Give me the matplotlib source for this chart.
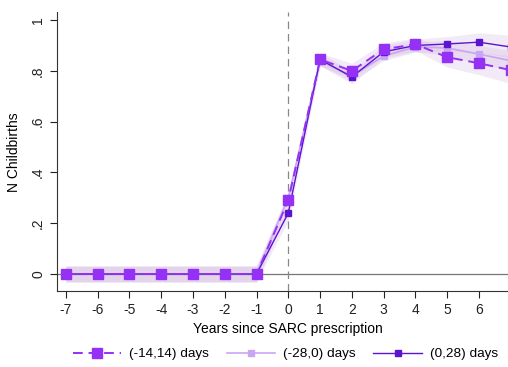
import numpy as np
import matplotlib.pyplot as plt
from matplotlib import rcParams

rcParams['font.family'] = ['Liberation Sans', 'DejaVu Sans']
rcParams['axes.unicode_minus'] = False

years = [-7, -6, -5, -4, -3, -2, -1, 0, 1, 2, 3, 4, 5, 6, 7]

# (-14,14) days
s1 = [0, 0, 0, 0, 0, 0, 0, 0.29, 0.845, 0.80, 0.885, 0.905, 0.854, 0.83, 0.803]
s1_lo = [-0.033] * 7 + [0.26, 0.82, 0.77, 0.86, 0.88, 0.815, 0.785, 0.75]
s1_hi = [0.033] * 7 + [0.32, 0.87, 0.83, 0.91, 0.93, 0.895, 0.875, 0.86]

# (-28,0) days
s2 = [0, 0, 0, 0, 0, 0, 0, 0.30, 0.84, 0.78, 0.858, 0.895, 0.89, 0.866, 0.84]
s2_lo = [-0.03] * 7 + [0.28, 0.82, 0.76, 0.84, 0.875, 0.86, 0.83, 0.80]
s2_hi = [0.03] * 7 + [0.32, 0.86, 0.80, 0.88, 0.915, 0.92, 0.90, 0.88]

# (0,28) days
s3 = [0, 0, 0, 0, 0, 0, 0, 0.24, 0.845, 0.776, 0.875, 0.90, 0.906, 0.913, 0.894]
s3_lo = [-0.03] * 7 + [0.21, 0.82, 0.75, 0.85, 0.875, 0.875, 0.875, 0.85]
s3_hi = [0.03] * 7 + [0.27, 0.87, 0.80, 0.90, 0.925, 0.935, 0.95, 0.94]

c1 = '#9530F5'
c2 = '#C9A6F2'
c3 = '#5A14D2'

fig = plt.figure(figsize=(5.08, 3.67), dpi=100)
ax = fig.add_axes([0.112, 0.207, 0.911, 0.759])

for lo, hi in [(s1_lo, s1_hi), (s2_lo, s2_hi), (s3_lo, s3_hi)]:
    ax.fill_between(years, lo, hi, color='#DCC3E6', alpha=0.35, linewidth=0)

ax.axhline(0, color='#777777', linewidth=0.9, zorder=1)
ax.axvline(0, color='#888888', linewidth=0.9, linestyle=(0, (6, 4)), zorder=1)

ax.plot(years, s2, color=c2, linewidth=1.2, marker='s', markersize=4,
        label='(-28,0) days', zorder=3)
ax.plot(years, s3, color=c3, linewidth=1.0, marker='s', markersize=4,
        label='(0,28) days', zorder=4)
ax.plot(years, s1, color=c1, linewidth=1.4, linestyle=(0, (5, 3)), marker='s',
        markersize=6.5, label='(-14,14) days', zorder=5)

ax.set_xlim(-7.28, 7.28)
ax.set_ylim(-0.067, 1.03)
ax.set_xticks(range(-7, 8))
ax.set_yticks([0, 0.2, 0.4, 0.6, 0.8, 1])
ax.set_yticklabels(['0', '.2', '.4', '.6', '.8', '1'], rotation=90, va='center')
ax.tick_params(labelsize=10, length=5, width=0.8, colors='#222222')
ax.spines['top'].set_visible(False)
ax.spines['right'].set_visible(False)
ax.spines['left'].set_color('#333333')
ax.spines['bottom'].set_color('#333333')

ax.set_xlabel('Years since SARC prescription', fontsize=10, labelpad=4)
ax.set_ylabel('N Childbirths', fontsize=10, labelpad=7)

h, l = ax.get_legend_handles_labels()
order = [2, 0, 1]
fig.legend([h[i] for i in order], [l[i] for i in order], loc='center',
           bbox_to_anchor=(0.562, 0.035), ncol=3, frameon=False, fontsize=9.7,
           handlelength=3.6, handletextpad=0.6, columnspacing=1.3)

plt.savefig('out.png', dpi=100)
